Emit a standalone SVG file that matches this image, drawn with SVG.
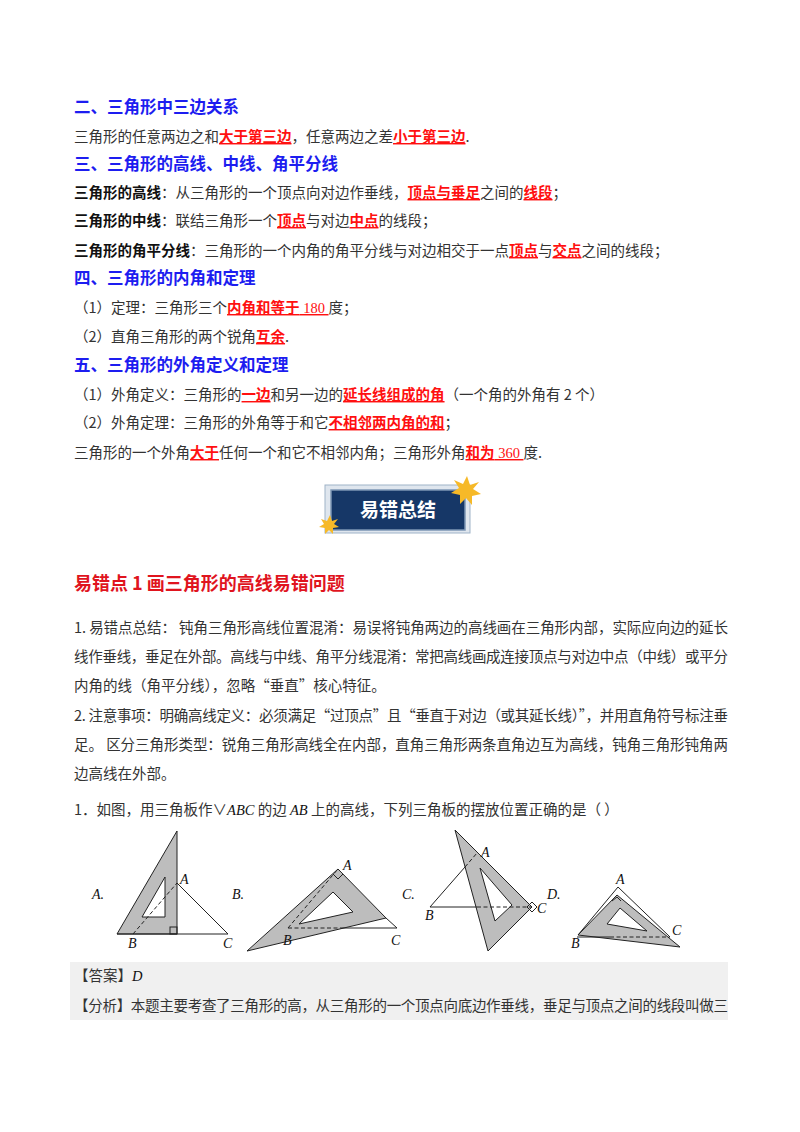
<svg xmlns="http://www.w3.org/2000/svg" width="800" height="1132" viewBox="0 0 800 1132">
<style>
text{font-family:"Noto Sans CJK SC","Liberation Sans",sans-serif;font-size:14.5px;fill:#333}
.h{font-size:16.5px;font-weight:bold;fill:#1d1df0}
.b{font-weight:bold;fill:#111}
.r{fill:#ff1010;font-weight:bold;text-decoration:underline}
.rn{fill:#ff1010;text-decoration:underline;font-family:"Liberation Serif",serif}
.it{font-family:"Liberation Serif",serif;font-style:italic;fill:#111}
.lab{font-family:"Liberation Serif",serif;font-style:italic;font-size:14px;fill:#111}
.g{fill:#bdbdbd;stroke:#222;stroke-width:1}
.hole{fill:#fff;stroke:#222;stroke-width:1}
.ln{stroke:#222;stroke-width:1;fill:none}
.d{stroke:#222;stroke-width:1;fill:none;stroke-dasharray:4 2.5}
</style>
<rect width="800" height="1132" fill="#fff"/>
<text class="h" x="74" y="113">二、三角形中三边关系</text>
<text x="74" y="142">三角形的任意两边之和<tspan class="r">大于第三边</tspan>，任意两边之差<tspan class="r">小于第三边</tspan>.</text>
<text class="h" x="74" y="170">三、三角形的高线、中线、角平分线</text>
<text x="74" y="198"><tspan class="b">三角形的高线</tspan>：从三角形的一个顶点向对边作垂线，<tspan class="r">顶点与垂足</tspan>之间的<tspan class="r">线段</tspan>；</text>
<text x="74" y="226"><tspan class="b">三角形的中线</tspan>：联结三角形一个<tspan class="r">顶点</tspan>与对边<tspan class="r">中点</tspan>的线段；</text>
<text x="74" y="256"><tspan class="b">三角形的角平分线</tspan>：三角形的一个内角的角平分线与对边相交于一点<tspan class="r">顶点</tspan>与<tspan class="r">交点</tspan>之间的线段；</text>
<text class="h" x="74" y="284">四、三角形的内角和定理</text>
<text x="74" y="313">（1）定理：三角形三个<tspan class="r">内角和等于</tspan><tspan class="rn"> 180 </tspan>度；</text>
<text x="74" y="342">（2）直角三角形的两个锐角<tspan class="r">互余</tspan>.</text>
<text class="h" x="74" y="371">五、三角形的外角定义和定理</text>
<text x="74" y="400">（1）外角定义：三角形的<tspan class="r">一边</tspan>和另一边的<tspan class="r">延长线组成的角</tspan>（一个角的外角有 2 个）</text>
<text x="74" y="428">（2）外角定理：三角形的外角等于和它<tspan class="r">不相邻两内角的和</tspan>；</text>
<text x="74" y="458">三角形的一个外角<tspan class="r">大于</tspan>任何一个和它不相邻内角；三角形外角<tspan class="r">和为</tspan><tspan class="rn"> 360 </tspan>度.</text>

<g id="banner">
<rect x="325" y="485" width="145" height="48" fill="#dfe6ee" stroke="#9fb3c8"/>
<rect x="331" y="490" width="134" height="40" fill="#163767" stroke="#7d97b5" stroke-width="1.5"/>
<text x="398" y="517" text-anchor="middle" style="font-size:19px;font-weight:bold;fill:#fff">易错总结</text>
<polygon points="467,476 470,485 479,482 473,489 481,494 472,496 472,505 466,498 460,504 460,495 451,493 459,488 454,480 463,484" fill="#f6b928"/>
<polygon points="330,515 332,521 338,519 334,524 339,527 333,528 333,534 329,530 325,534 325,528 319,527 324,524 321,519 327,521" fill="#f6b928"/>
</g>

<text x="74" y="590" style="font-size:18px;font-weight:bold;fill:#e0141e">易错点 1    画三角形的高线易错问题</text>
<text x="74" y="633" textLength="654" lengthAdjust="spacing">1. 易错点总结：    钝角三角形高线位置混淆：易误将钝角两边的高线画在三角形内部，实际应向边的延长</text>
<text x="74" y="662" textLength="654" lengthAdjust="spacing">线作垂线，垂足在外部。高线与中线、角平分线混淆：常把高线画成连接顶点与对边中点（中线）或平分</text>
<text x="74" y="691">内角的线（角平分线），忽略“垂直”核心特征。</text>
<text x="74" y="721" textLength="654" lengthAdjust="spacing">2. 注意事项：明确高线定义：必须满足“过顶点”且“垂直于对边（或其延长线）”，并用直角符号标注垂</text>
<text x="74" y="750" textLength="654" lengthAdjust="spacing">足。    区分三角形类型：锐角三角形高线全在内部，直角三角形两条直角边互为高线，钝角三角形钝角两</text>
<text x="74" y="779">边高线在外部。</text>
<text x="74" y="815">1．如图，用三角板作∨<tspan class="it">ABC</tspan> 的边 <tspan class="it">AB</tspan> 上的高线，下列三角板的摆放位置正确的是（          ）</text>

<g id="figA">
<polygon class="g" points="117,934 177,831 177,934"/>
<polygon class="hole" points="142,917 165,877 165,917"/>
<line class="ln" x1="117" y1="934" x2="228" y2="934"/>
<line class="ln" x1="177" y1="883" x2="228" y2="934"/>
<line class="d" x1="133" y1="934" x2="177" y2="883"/>
<rect x="170" y="927" width="7" height="7" class="ln"/>
<text class="lab" x="92" y="899">A.</text>
<text class="lab" x="180" y="884">A</text>
<text class="lab" x="128" y="948">B</text>
<text class="lab" x="223" y="948">C</text>
</g>
<g id="figB">
<text class="lab" x="232" y="899">B.</text>
<polygon class="g" points="247,951 338,869 386,918"/>
<polygon class="hole" points="299,924 333,892 353,912"/>
<line class="ln" x1="386" y1="918" x2="397" y2="928"/>
<line class="d" x1="288" y1="928" x2="343" y2="928"/>
<line class="ln" x1="343" y1="928" x2="397" y2="928"/>
<line class="d" x1="288" y1="928" x2="338" y2="869"/>
<polyline class="ln" points="333,874 338,879 343,874"/>
<text class="lab" x="343" y="870">A</text>
<text class="lab" x="283" y="945">B</text>
<text class="lab" x="391" y="945">C</text>
</g>
<g id="figC">
<text class="lab" x="402" y="899">C.</text>
<polygon class="g" points="455,830 532,907 488,951"/>
<polygon class="hole" points="480,868 512,905 495,921"/>
<line class="ln" x1="430" y1="907" x2="465" y2="867"/>
<line class="d" x1="465" y1="867" x2="477" y2="853"/>
<line class="ln" x1="430" y1="907" x2="477" y2="907"/>
<line class="d" x1="477" y1="907" x2="532" y2="907"/>
<polygon class="ln" points="527,907 532,902 537,907 532,912"/>
<text class="lab" x="481" y="857">A</text>
<text class="lab" x="425" y="920">B</text>
<text class="lab" x="537" y="913">C</text>
<text class="lab" x="547" y="899">D.</text>
</g>
<g id="figD">
<polygon class="g" points="578,935 617,895 680,947"/>
<polygon class="hole" points="607,924 620,908 647,931"/>
<line class="ln" x1="618" y1="887" x2="670" y2="937"/>
<line class="ln" x1="618" y1="887" x2="578" y2="935"/>
<line class="ln" x1="577" y1="937" x2="610" y2="937"/>
<line class="d" x1="610" y1="937" x2="670" y2="937"/>
<polyline class="ln" points="612,901 617,897 621,901"/>
<text class="lab" x="616" y="884">A</text>
<text class="lab" x="571" y="948">B</text>
<text class="lab" x="672" y="935">C</text>
</g>

<rect x="70" y="962" width="658" height="58" fill="#f0f0f0"/>
<text x="74" y="981">【答案】<tspan class="it">D</tspan></text>
<text x="74" y="1011" textLength="654" lengthAdjust="spacing">【分析】本题主要考查了三角形的高，从三角形的一个顶点向底边作垂线，垂足与顶点之间的线段叫做三</text>
</svg>
